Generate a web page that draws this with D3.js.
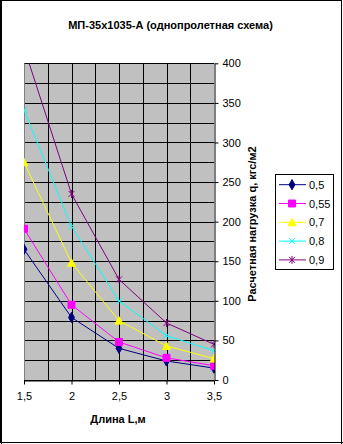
<!DOCTYPE html>
<html><head><meta charset="utf-8">
<script src="https://cdn.jsdelivr.net/npm/d3@7"></script>
<style>body{margin:0;background:#fff}svg{display:block}text{font-family:"Liberation Sans",Arial,sans-serif}</style>
</head><body>
<svg id="c" width="343" height="444"></svg>
<script>
const lengths = [1.5, 2, 2.5, 3, 3.5];
const seriesNames = ["0,5", "0,55", "0,7", "0,8", "0,9"];
const s05 = [165, 79, 40, 24, 15];
const s055 = [191, 95, 48, 28, 18];
const s07 = [275, 148, 75, 43, 27];
const s08 = [341, 194, 100, 56, 37];
const s09 = [420, 235, 127, 72, 45];
const yTicks = [0, 50, 100, 150, 200, 250, 300, 350, 400];
const xTicks = [1.5, 2, 2.5, 3, 3.5];
const xTickLabels = ["1,5", "2", "2,5", "3", "3,5"];
const title = "МП-35х1035-А (однопролетная схема)";
const xTitle = "Длина L,м";
const yTitle = "Расчетная нагрузка q, кгс/м2";

const colors = ["#000080", "#FF00FF", "#FFFF00", "#00FFFF", "#800080"];
const shapes = ["diamond", "square", "triangle", "x", "star"];
const allSeries = [s05, s055, s07, s08, s09];

const svg = d3.select("#c");
// outer border
svg.append("rect").attr("x", 0.5).attr("y", 0.5).attr("width", 341).attr("height", 442)
  .attr("fill", "#fff").attr("stroke", "#000").attr("stroke-width", 1);
svg.append("line").attr("x1", 1.5).attr("x2", 1.5).attr("y1", 0).attr("y2", 444).attr("stroke", "#000");
svg.append("line").attr("x1", 341.5).attr("x2", 341.5).attr("y1", 0).attr("y2", 444).attr("stroke", "#000");
svg.append("line").attr("x1", 0).attr("x2", 343).attr("y1", 442.5).attr("y2", 442.5).attr("stroke", "#000");

const x = d3.scaleLinear().domain([1.5, 3.5]).range([24, 214]);
const y = d3.scaleLinear().domain([0, 400]).range([380, 63.3]);

const X0 = x(1.5), X1 = x(3.5), Y0 = y(400), Y1 = y(0);

svg.append("rect").attr("x", X0).attr("y", Y0).attr("width", X1 - X0).attr("height", Y1 - Y0)
  .attr("fill", "#C0C0C0");

const g = svg.append("g");
// gridlines
d3.range(0, 401, 25).forEach(v => {
  g.append("line").attr("x1", X0).attr("x2", X1)
    .attr("y1", Math.round(y(v)) + 0.5).attr("y2", Math.round(y(v)) + 0.5)
    .attr("stroke", "#000").attr("stroke-width", 1);
});
d3.range(1.75, 3.5, 0.25).forEach(v => {
  g.append("line").attr("y1", Y0).attr("y2", Y1)
    .attr("x1", Math.round(x(v)) + 0.5).attr("x2", Math.round(x(v)) + 0.5)
    .attr("stroke", "#000").attr("stroke-width", 1);
});
// left plot border (gray)
g.append("line").attr("x1", Math.round(X0) + 0.5).attr("x2", Math.round(X0) + 0.5)
  .attr("y1", Y0).attr("y2", Y1).attr("stroke", "#808080");

// clip
svg.append("clipPath").attr("id", "pc").append("rect")
  .attr("x", X0).attr("y", Y0).attr("width", X1 - X0 + 1).attr("height", Y1 - Y0 + 1);

const line = d3.line().x((d, i) => x(lengths[i])).y(d => y(d));

function markerPath(shape) {
  switch (shape) {
    case "diamond": return d3.symbol(d3.symbolDiamond, 30)();
    case "square": return "M-3.5,-3.5H3.5V3.5H-3.5Z";
    case "triangle": return "M0,-4L4,3.5L-4,3.5Z";
    case "x": return "M-3,-3L3,3M-3,3L3,-3";
    case "star": return "M-3,-3L3,3M-3,3L3,-3M0,-4V4";
  }
}
function drawMarker(sel, shape, color) {
  const filled = !(shape === "x" || shape === "star");
  sel.append("path").attr("d", markerPath(shape))
    .attr("fill", filled ? color : "none")
    .attr("stroke", color).attr("stroke-width", 1);
}

const lg = svg.append("g").attr("clip-path", "url(#pc)");
allSeries.forEach((s, k) => {
  lg.append("path").attr("d", line(s)).attr("fill", "none")
    .attr("stroke", colors[k]).attr("stroke-width", 1);
});
allSeries.forEach((s, k) => {
  s.forEach((v, i) => {
    if (v > 400) return;
    const m = lg.append("g").attr("transform", `translate(${x(lengths[i])},${y(v)})`);
    drawMarker(m, shapes[k], colors[k]);
  });
});

// y axis on right
const yAxis = d3.axisRight(y).tickValues(yTicks).tickSize(4).tickSizeOuter(0).tickPadding(4)
  .tickFormat(d => String(d));
const ya = svg.append("g").attr("transform", `translate(${Math.round(X1) + 0.5},0)`).call(yAxis);
ya.selectAll("path,line").attr("stroke", "#000");
ya.selectAll("text").attr("font-size", 11).attr("font-family", "'Liberation Sans',Arial,sans-serif").attr("fill", "#000");

// x axis
const xAxis = d3.axisBottom(x).tickValues(xTicks).tickSize(4).tickSizeOuter(0).tickPadding(8)
  .tickFormat((d, i) => xTickLabels[i]);
const xa = svg.append("g").attr("transform", `translate(0,${Math.round(Y1) + 0.5})`).call(xAxis);
xa.selectAll("path,line").attr("stroke", "#000");
xa.selectAll("text").attr("font-size", 11).attr("font-family", "'Liberation Sans',Arial,sans-serif").attr("fill", "#000");

// titles
svg.append("text").attr("x", 170.5).attr("y", 29).attr("text-anchor", "middle")
  .attr("font-size", 11).attr("font-weight", "bold").text(title);
svg.append("text").attr("x", 118).attr("y", 423).attr("text-anchor", "middle")
  .attr("font-size", 11).attr("font-weight", "bold").text(xTitle);
svg.append("text").attr("transform", "translate(256,224) rotate(-90)").attr("text-anchor", "middle")
  .attr("font-size", 11).attr("font-weight", "bold").text(yTitle);

// legend
const leg = svg.append("g");
leg.append("rect").attr("x", 275.5).attr("y", 174.5).attr("width", 58).attr("height", 95)
  .attr("fill", "#fff").attr("stroke", "#000");
seriesNames.forEach((n, k) => {
  const yy = 184.7 + k * 18.8;
  leg.append("line").attr("x1", 279).attr("x2", 306).attr("y1", yy).attr("y2", yy)
    .attr("stroke", colors[k]);
  const m = leg.append("g").attr("transform", `translate(292,${yy})`);
  drawMarker(m, shapes[k], colors[k]);
  leg.append("text").attr("x", 309).attr("y", yy + 4).attr("font-size", 11).text(n);
});
</script>
</body></html>
